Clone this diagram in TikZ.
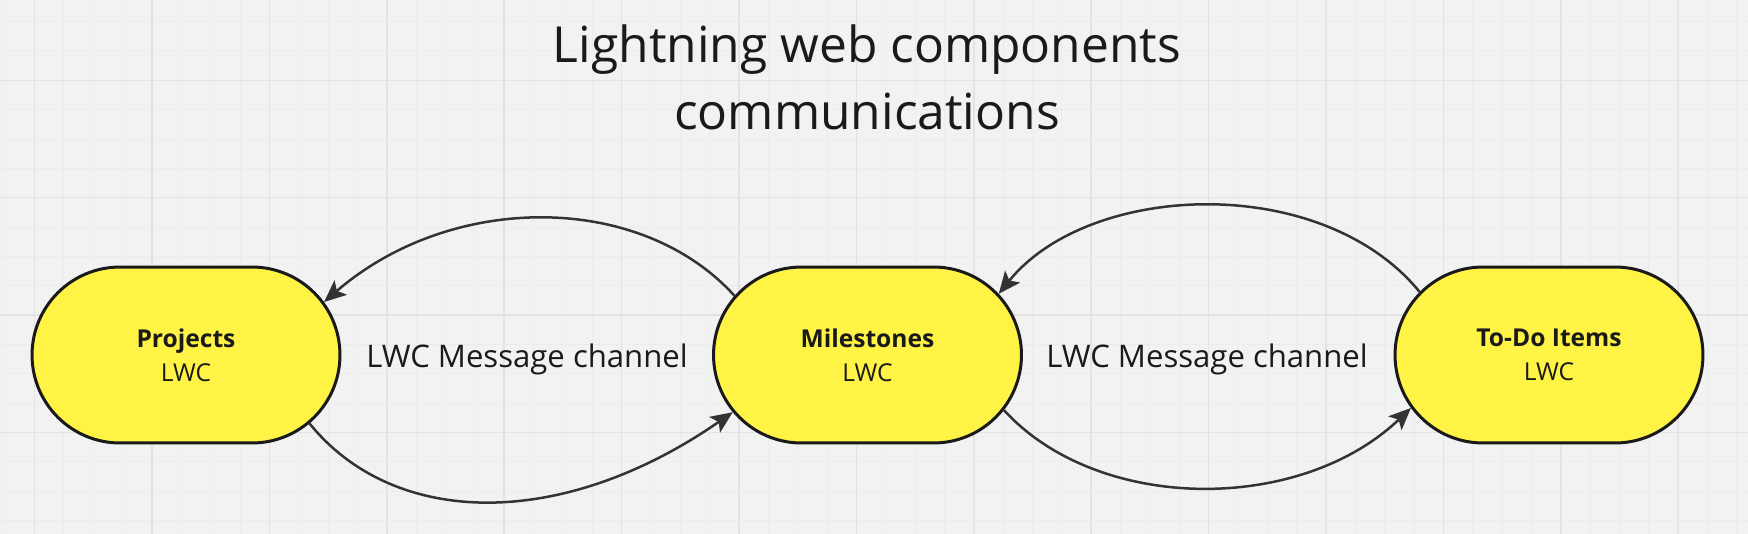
\documentclass[tikz,border=0pt]{standalone}
\usepackage{fontspec}
\setmainfont{Open Sans}
\usetikzlibrary{arrows.meta,shapes.misc}
\definecolor{boardbg}{HTML}{F2F2F2}
\definecolor{gridminor}{HTML}{ECECEC}
\definecolor{gridmajor}{HTML}{E3E3E3}
\definecolor{stickyyellow}{HTML}{FFF445}
\definecolor{inkdark}{HTML}{1A1A1A}
\definecolor{wiregray}{HTML}{333333}
\tikzset{
  lwcbox/.style={rounded rectangle, draw=inkdark, line width=0.06cm, fill=stickyyellow,
    minimum width=6.16cm, minimum height=3.52cm, inner sep=0pt, align=center,
    text=inkdark, font=\fontsize{14}{19.3}\selectfont},
  channel/.style={->, >={Stealth[length=0.44cm,width=0.38cm,inset=0.1cm]}, draw=wiregray, line width=0.05cm},
  chanlabel/.style={anchor=base, text=inkdark, font=\fontsize{17.7}{21}\selectfont}
}

\begin{document}
\begin{tikzpicture}[x=0.02cm, y=-0.02cm]
			%%%%% START %%%%%
			\fill[boardbg] (0, 0) rectangle (1748, 534);
			\useasboundingbox (0, 0) rectangle (1748, 534);
			\clip (0, 0) rectangle (1748, 534);
			
			% board grid
			\foreach \i in {-1,...,60} {
				\draw[gridminor, line width=0.02cm] (34.6+\i*29.35, 0) -- ++(0, 534);
			}
			\foreach \i in {-3,...,16} {
				\draw[gridminor, line width=0.02cm] (0, 80.3+\i*29.35) -- ++(1748, 0);
			}
			\foreach \i in {-1,...,15} {
				\draw[gridmajor, line width=0.03cm] (34.6+\i*117.4, 0) -- ++(0, 534);
			}
			\foreach \i in {-1,...,4} {
				\draw[gridmajor, line width=0.03cm] (0, 80.3+\i*117.4) -- ++(1748, 0);
			}
			
			% title
			\node[anchor=base, align=center, text=inkdark, font=\fontsize{28.3}{38}\selectfont] (title) at (867, 129)
				{Lightning web components\\communications};
			
			% components
			\node[lwcbox] (projects) at (186, 355) {\textbf{Projects}\\LWC};
			\node[lwcbox] (milestones) at (867.5, 355) {\textbf{Milestones}\\LWC};
			\node[lwcbox] (todo) at (1549, 355) {\textbf{To-Do Items}\\LWC};
			
			\node[chanlabel] (chanA) at (527, 367) {LWC Message channel};
			\node[chanlabel] (chanB) at (1207, 367) {LWC Message channel};
			
			% message channels
			\draw[channel] (projects.-29) .. controls +(85, 105) and +(-170, 118) .. (milestones.-157);
			\draw[channel] (milestones.156) .. controls +(-94, -104) and +(127, -110) .. (projects.21.5);
			\draw[channel] (todo.154.7) .. controls +(-98, -120) and +(90, -112) .. (milestones.25.4);
			\draw[channel] (milestones.-22) .. controls +(94, 103) and +(-111, 106) .. (todo.-159);
			%%%%% END %%%%%
\end{tikzpicture}
\end{document}
